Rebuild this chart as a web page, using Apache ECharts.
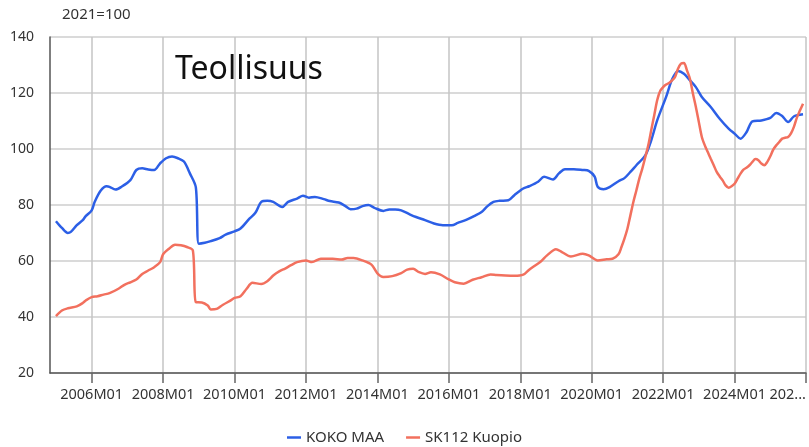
<!DOCTYPE html>
<html>
<head>
<meta charset="utf-8">
<script src="https://cdn.jsdelivr.net/npm/echarts@6/dist/echarts.min.js"></script>
<style>
  html, body { margin: 0; padding: 0; background: #fff; }
  #chart { width: 809px; height: 447px; }
</style>
</head>
<body>
<div id="chart"></div>
<script>
// kuukausiakseli 2004M11 ... 2026M01
const firstMonth = [2004, 11];
const lastMonth = [2026, 1];

const seriesNames = ['KOKO MAA', 'SK112 Kuopio'];
const seriesColors = ['#2c5fe6', '#f2705e'];

// [kuukausi, indeksi] luettu kuvasta
const kokoMaa = [
  ['2005M01', 74.2], ['2005M03', 71.8], ['2005M05', 70.0], ['2005M06', 70.4], ['2005M08', 72.8],
  ['2005M10', 74.6], ['2005M11', 76.0], ['2006M01', 78.1], ['2006M02', 81.1], ['2006M04', 85.1],
  ['2006M06', 86.7], ['2006M07', 86.5], ['2006M09', 85.5], ['2006M11', 86.5], ['2007M02', 88.9],
  ['2007M04', 92.5], ['2007M06', 93.1], ['2007M08', 92.7], ['2007M10', 92.5], ['2007M12', 94.9],
  ['2008M02', 96.7], ['2008M04', 97.3], ['2008M06', 96.7], ['2008M08', 95.5], ['2008M10', 91.3],
  ['2008M12', 86.3], ['2009M01', 66.2], ['2009M03', 66.5], ['2009M05', 67.1],
  ['2009M08', 68.2], ['2009M10', 69.4], ['2010M01', 70.6], ['2010M03', 71.6], ['2010M06', 75.1],
  ['2010M08', 77.2], ['2010M10', 81.1], ['2010M12', 81.5], ['2011M02', 81.1], ['2011M05', 79.3],
  ['2011M07', 81.1], ['2011M10', 82.3], ['2011M12', 83.3], ['2012M02', 82.6], ['2012M04', 82.9],
  ['2012M07', 82.1], ['2012M09', 81.4], ['2012M12', 80.9], ['2013M02', 79.8], ['2013M04', 78.5],
  ['2013M06', 78.7], ['2013M08', 79.6], ['2013M10', 80.0], ['2013M12', 79.0], ['2014M03', 77.9],
  ['2014M05', 78.4], ['2014M07', 78.4], ['2014M09', 78.1], ['2014M12', 76.6], ['2015M02', 75.7],
  ['2015M05', 74.6], ['2015M08', 73.4], ['2015M11', 72.8], ['2016M02', 72.8], ['2016M04', 73.6],
  ['2016M07', 74.8], ['2016M10', 76.3], ['2016M12', 77.5], ['2017M02', 79.6], ['2017M04', 81.1],
  ['2017M06', 81.5], ['2017M09', 81.7], ['2017M11', 83.5], ['2018M02', 85.9], ['2018M04', 86.7],
  ['2018M07', 88.3], ['2018M09', 90.1], ['2018M12', 89.1], ['2019M02', 91.3], ['2019M04', 92.8],
  ['2019M07', 92.8], ['2019M10', 92.5], ['2019M12', 92.2], ['2020M02', 90.1], ['2020M03', 86.5],
  ['2020M05', 85.6], ['2020M07', 86.4], ['2020M10', 88.5], ['2020M12', 89.6], ['2021M02', 91.8],
  ['2021M04', 94.2], ['2021M07', 97.7], ['2021M09', 103.1], ['2021M11', 110.2], ['2022M02', 118.6],
  ['2022M04', 124.8], ['2022M06', 127.9], ['2022M08', 126.9], ['2022M10', 124.5], ['2022M12', 122.1],
  ['2023M02', 118.6], ['2023M05', 115.0], ['2023M08', 110.8], ['2023M11', 107.3], ['2024M01', 105.5],
  ['2024M03', 103.7], ['2024M05', 106.0], ['2024M07', 109.9], ['2024M10', 110.2], ['2025M01', 111.1],
  ['2025M03', 112.9], ['2025M05', 111.8], ['2025M07', 109.6], ['2025M09', 111.7], ['2025M12', 112.4]
];

const kuopio = [
  ['2005M01', 40.3], ['2005M03', 42.3], ['2005M05', 43.1], ['2005M08', 43.8], ['2005M10', 45.0],
  ['2005M11', 45.9], ['2006M01', 47.1], ['2006M03', 47.4], ['2006M05', 48.0], ['2006M07', 48.5],
  ['2006M10', 50.1], ['2006M12', 51.5], ['2007M02', 52.4], ['2007M04', 53.4], ['2007M06', 55.4],
  ['2007M08', 56.6], ['2007M10', 57.8], ['2007M12', 59.6], ['2008M01', 62.4], ['2008M03', 64.4],
  ['2008M05', 65.8], ['2008M07', 65.6], ['2008M09', 65.0], ['2008M11', 63.8], ['2008M12', 45.3],
  ['2009M02', 45.2], ['2009M04', 44.1], ['2009M05', 42.7], ['2009M07', 42.9], ['2009M09', 44.3],
  ['2009M12', 46.1], ['2010M01', 46.8], ['2010M03', 47.4], ['2010M05', 50.0], ['2010M07', 52.2],
  ['2010M10', 51.8], ['2010M12', 52.8], ['2011M02', 54.8], ['2011M04', 56.3], ['2011M06', 57.3],
  ['2011M08', 58.5], ['2011M10', 59.6], ['2012M01', 60.2], ['2012M03', 59.6], ['2012M06', 60.8],
  ['2012M08', 60.8], ['2012M10', 60.8], ['2013M01', 60.5], ['2013M03', 61.1], ['2013M05', 61.1],
  ['2013M08', 60.2], ['2013M11', 58.7], ['2014M01', 55.6], ['2014M03', 54.3], ['2014M06', 54.6],
  ['2014M09', 55.7], ['2014M11', 56.9], ['2015M01', 57.2], ['2015M03', 56.0], ['2015M05', 55.4],
  ['2015M07', 56.0], ['2015M10', 55.2], ['2016M01', 53.4], ['2016M03', 52.4], ['2016M06', 51.9],
  ['2016M09', 53.3], ['2016M12', 54.2], ['2017M03', 55.2], ['2017M05', 55.0], ['2017M08', 54.8],
  ['2017M11', 54.7], ['2018M02', 55.1], ['2018M04', 56.9], ['2018M06', 58.4], ['2018M08', 59.9],
  ['2018M10', 62.0], ['2019M01', 64.2], ['2019M03', 63.2], ['2019M06', 61.6], ['2019M10', 62.6],
  ['2019M12', 62.0], ['2020M03', 60.2], ['2020M06', 60.6], ['2020M08', 60.8], ['2020M10', 62.4],
  ['2020M11', 65.0], ['2020M12', 68.0], ['2021M01', 71.5], ['2021M02', 76.3], ['2021M03', 81.1],
  ['2021M04', 85.2], ['2021M05', 89.4], ['2021M06', 93.0], ['2021M07', 97.1], ['2021M08', 101.3],
  ['2021M09', 106.7], ['2021M10', 112.0], ['2021M11', 117.4], ['2021M12', 120.7], ['2022M01', 122.1],
  ['2022M02', 123.0], ['2022M03', 123.6], ['2022M04', 124.5], ['2022M05', 125.7], ['2022M06', 128.7],
  ['2022M07', 130.5], ['2022M08', 130.7], ['2022M09', 128.1], ['2022M10', 125.1], ['2022M11', 119.8],
  ['2022M12', 115.0], ['2023M01', 109.6], ['2023M02', 104.3], ['2023M03', 101.3], ['2023M04', 98.9],
  ['2023M05', 96.5], ['2023M06', 94.2], ['2023M07', 91.8], ['2023M08', 90.2], ['2023M09', 88.8],
  ['2023M10', 87.0], ['2023M11', 86.2], ['2023M12', 86.7], ['2024M01', 87.6], ['2024M02', 89.4],
  ['2024M03', 91.2], ['2024M04', 92.6], ['2024M05', 93.3], ['2024M06', 94.2], ['2024M07', 95.4],
  ['2024M08', 96.4], ['2024M09', 96.0], ['2024M10', 94.8], ['2024M11', 94.2], ['2024M12', 95.4],
  ['2025M01', 97.4], ['2025M02', 99.8], ['2025M03', 101.3], ['2025M04', 102.5], ['2025M05', 103.7],
  ['2025M06', 104.0], ['2025M07', 104.3], ['2025M08', 105.7], ['2025M09', 108.1], ['2025M10', 111.4],
  ['2025M11', 113.8], ['2025M12', 116.2]
];

const months = [];
for (let y = firstMonth[0], m = firstMonth[1]; y < lastMonth[0] || (y === lastMonth[0] && m <= lastMonth[1]); m++) {
  if (m > 12) { m = 1; y++; }
  months.push(y + 'M' + String(m).padStart(2, '0'));
}

// tikit joka toisen vuoden tammikuussa
function isTick(index, value) {
  const name = typeof value === 'string' ? value : months[index];
  return name.endsWith('M01') && Number(name.slice(0, 4)) % 2 === 0;
}

const xData = months.map((m, i) => i === months.length - 1
  ? { value: m, textStyle: { width: 42, overflow: 'truncate', ellipsis: '...', align: 'right' } }
  : m);

const font = 'Noto Sans, sans-serif';
const chart = echarts.init(document.getElementById('chart'));
chart.setOption({
  animation: false,
  title: {
    text: 'Teollisuus',
    left: 170,
    top: 49,
    textStyle: { fontFamily: font, fontSize: 32, fontWeight: 'normal', color: '#111' }
  },
  legend: {
    data: seriesNames,
    bottom: -3,
    left: 'center',
    icon: 'rect',
    itemWidth: 14,
    itemHeight: 2.5,
    itemGap: 22,
    textStyle: { fontFamily: font, fontSize: 15, color: '#333' }
  },
  grid: { left: 50, right: 1, top: 37, bottom: 74, containLabel: false },
  xAxis: {
    type: 'category',
    boundaryGap: false,
    data: xData,
    axisLine: { lineStyle: { color: '#555', width: 1.5 } },
    axisTick: { interval: isTick, length: 10, lineStyle: { color: '#666', width: 1.5 } },
    axisLabel: { interval: isTick, margin: 14, fontFamily: font, fontSize: 14.5, color: '#333' },
    splitLine: { show: true, interval: isTick, lineStyle: { color: '#c4c4c4', width: 1.5 } }
  },
  yAxis: {
    type: 'value',
    min: 20,
    max: 140,
    interval: 20,
    name: '2021=100',
    nameLocation: 'end',
    nameGap: 15,
    nameTextStyle: { fontFamily: font, fontSize: 15, color: '#333', align: 'left', padding: [0, 0, 0, 12] },
    axisLine: { show: true, lineStyle: { color: '#555', width: 1.5 } },
    axisTick: { show: false },
    axisLabel: { margin: 16, fontFamily: font, fontSize: 14, color: '#333' },
    splitLine: { lineStyle: { color: '#dadada', width: 2 } }
  },
  series: [
    {
      name: seriesNames[0],
      type: 'line',
      data: kokoMaa,
      showSymbol: false,
      smooth: 0.3,
      lineStyle: { width: 2.5, color: seriesColors[0] },
      itemStyle: { color: seriesColors[0] }
    },
    {
      name: seriesNames[1],
      type: 'line',
      data: kuopio,
      showSymbol: false,
      smooth: 0.3,
      lineStyle: { width: 2.5, color: seriesColors[1] },
      itemStyle: { color: seriesColors[1] }
    }
  ]
});
</script>
</body>
</html>
